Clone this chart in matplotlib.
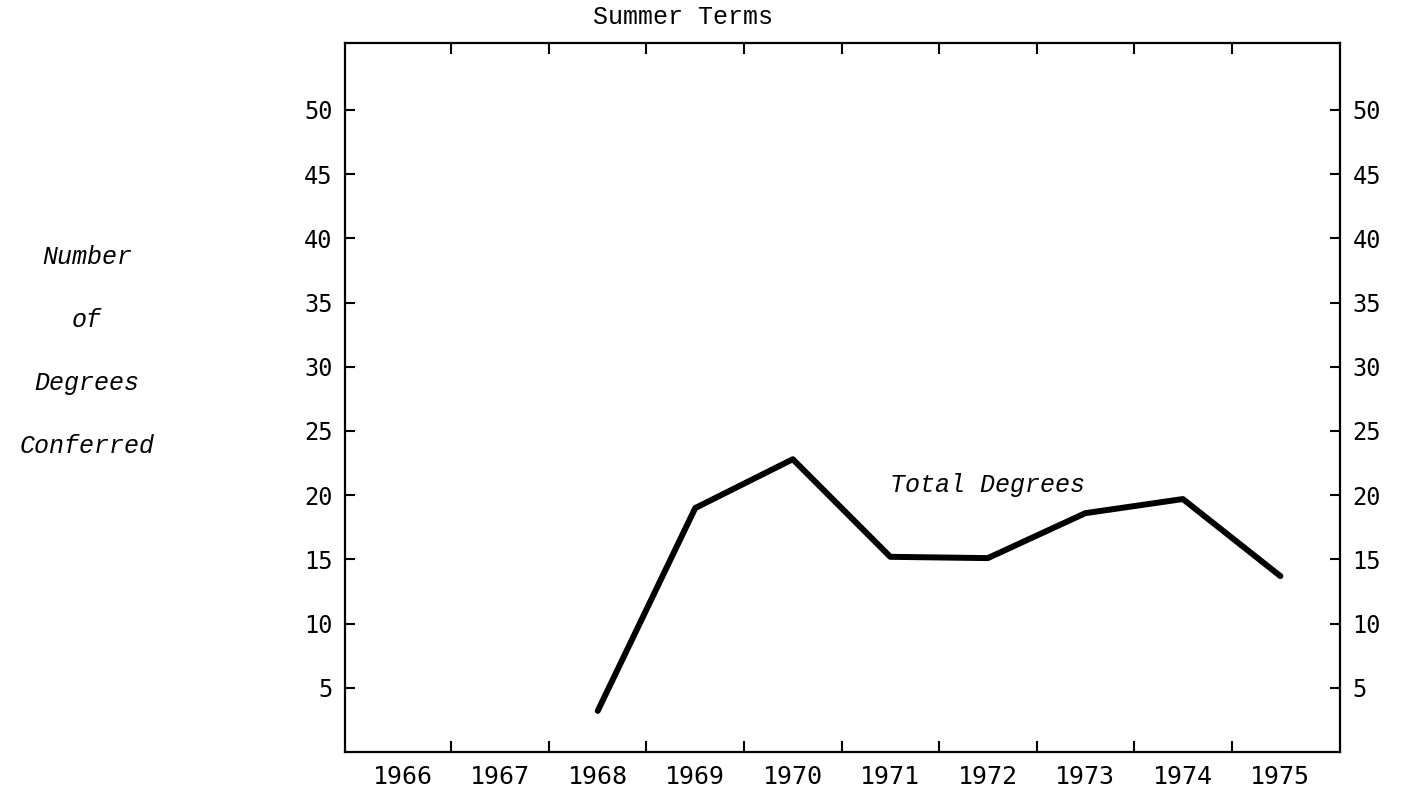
import matplotlib
matplotlib.use('Agg')
import matplotlib.pyplot as plt
import numpy as np

# summer term degrees
years = [1966, 1967, 1968, 1969, 1970, 1971, 1972, 1973, 1974, 1975]
plot_years = [1968, 1969, 1970, 1971, 1972, 1973, 1974, 1975]
total_degrees = [3.2, 19, 22.8, 15.2, 15.1, 18.6, 19.7, 13.7]
yticks = [5, 10, 15, 20, 25, 30, 35, 40, 45, 50]

mono = 'Liberation Mono'
nums = 'DejaVu Sans Mono'

fig = plt.figure(figsize=(14.03, 8), dpi=100)
ax = fig.add_axes([0.246, 0.06, 0.709, 0.886])

ax.plot(plot_years, total_degrees, c='black', lw=4.3,
        solid_capstyle='round', solid_joinstyle='round')

ax.set_xlim(1965.41, 1975.61)
ax.set_ylim(0, 55.2)

# year labels sit between the tick marks
ax.set_xticks(years)
ax.set_xticklabels([str(y) for y in years], fontfamily=nums, fontsize=18)
ax.set_xticks([y + 0.5 for y in years[:-1]], minor=True)
ax.tick_params(axis='x', which='major', length=0, pad=9)
ax.tick_params(axis='x', which='minor', direction='in', length=8, width=1.5,
               top=True, bottom=True)

ax.set_yticks(yticks)
ax.set_yticklabels([str(v) for v in yticks], fontfamily=nums, fontsize=17)
ax.tick_params(axis='y', direction='in', length=7, width=1.5, pad=9,
               left=True, right=True, labelleft=True, labelright=True)

for s in ax.spines.values():
    s.set_linewidth(1.6)

ax.text(1972.0, 20.8, 'Total Degrees', fontfamily=mono, fontstyle='italic',
        fontsize=18, ha='center', va='center')

fig.text(0.487, 0.979, 'Summer Terms', fontfamily=mono, fontsize=18,
         ha='center', va='center')
fig.text(0.062, 0.561, 'Number\nof\nDegrees\nConferred', fontfamily=mono,
         fontstyle='italic', fontsize=18, ha='center', va='center',
         linespacing=3.05)

plt.savefig('out.png', dpi=100)
